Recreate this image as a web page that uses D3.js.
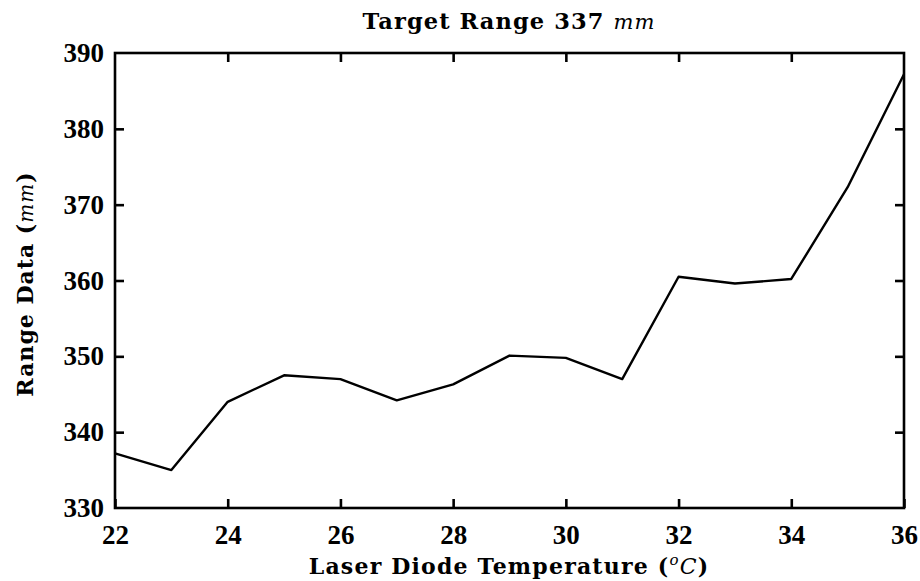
<!DOCTYPE html>
<html>
<head>
<meta charset="utf-8">
<script src="https://cdn.jsdelivr.net/npm/d3@7"></script>
<style>
  html, body { margin: 0; padding: 0; background: #fff; }
  svg { display: block; }
  text { fill: #000; }
  .lbl { font-family: "DejaVu Serif", serif; font-weight: bold; }
  .math { font-family: "DejaVu Serif", serif; font-style: italic; font-weight: normal; }
</style>
</head>
<body>
<svg id="chart" width="920" height="581"></svg>
<script>
// Laser diode temperature (°C) and measured range (mm)
const temperatures = [22, 23, 24, 25, 26, 27, 28, 29, 30, 31, 32, 33, 34, 35, 36];
const rangeData = [337.2, 335.0, 344.0, 347.5, 347.0, 344.2, 346.3, 350.1, 349.8, 347.0, 360.5, 359.6, 360.2, 372.3, 387.2];
const xTicks = [22, 24, 26, 28, 30, 32, 34, 36];
const yTicks = [330, 340, 350, 360, 370, 380, 390];

const margin = { left: 115, right: 16, top: 53, bottom: 73 };
const W = 920, H = 581;
const svg = d3.select("#chart");

const x = d3.scaleLinear().domain([22, 36]).range([margin.left, W - margin.right]);
const y = d3.scaleLinear().domain([330, 390]).range([H - margin.bottom, margin.top]);

const tickLen = 9;
const axisStroke = 2.6;

// Inward ticks on all four sides
function styleAxis(g) {
  g.select(".domain").remove();
  g.selectAll(".tick line").attr("stroke", "#000").attr("stroke-width", axisStroke);
  g.selectAll(".tick text")
    .style("font-family", "'Liberation Serif', serif")
    .style("font-weight", "bold")
    .style("font-size", "27px")
    .attr("fill", "#000");
}

svg.append("g")
  .attr("transform", `translate(0,${y(330)})`)
  .call(d3.axisBottom(x).tickValues(xTicks).tickFormat(d3.format("d")).tickSizeInner(-tickLen).tickSizeOuter(0).tickPadding(17))
  .call(styleAxis);

svg.append("g")
  .attr("transform", `translate(0,${y(390)})`)
  .call(d3.axisTop(x).tickValues(xTicks.slice(1, -1)).tickSizeInner(-tickLen).tickSizeOuter(0).tickFormat(""))
  .call(styleAxis);

svg.append("g")
  .attr("transform", `translate(${x(22)},0)`)
  .call(d3.axisLeft(y).tickValues(yTicks).tickFormat(d3.format("d")).tickSizeInner(-tickLen).tickSizeOuter(0).tickPadding(11))
  .call(styleAxis)
  .call(g => g.selectAll(".tick line").filter(d => d === 330 || d === 390).remove());

svg.append("g")
  .attr("transform", `translate(${x(36)},0)`)
  .call(d3.axisRight(y).tickValues(yTicks.slice(1, -1)).tickSizeInner(-tickLen).tickSizeOuter(0).tickFormat(""))
  .call(styleAxis);

// Frame
svg.append("rect")
  .attr("x", x(22)).attr("y", y(390))
  .attr("width", x(36) - x(22)).attr("height", y(330) - y(390))
  .attr("fill", "none").attr("stroke", "#000").attr("stroke-width", axisStroke);

// Data line
const line = d3.line().x((d, i) => x(temperatures[i])).y(d => y(d));
svg.append("path")
  .datum(rangeData)
  .attr("d", line)
  .attr("fill", "none")
  .attr("stroke", "#000")
  .attr("stroke-width", 2.4)
  .attr("stroke-linejoin", "round");

// Title
const title = svg.append("text")
  .attr("class", "lbl")
  .attr("x", 509).attr("y", 29)
  .attr("text-anchor", "middle")
  .style("font-size", "22.5px").style("letter-spacing", "1.1px");
title.append("tspan").text("Target Range 337 ");
title.append("tspan").attr("class", "math").style("font-size", "21px").text("mm");

// X axis label
const xl = svg.append("text")
  .attr("class", "lbl")
  .attr("x", 509).attr("y", 574)
  .attr("text-anchor", "middle")
  .style("font-size", "22px").style("letter-spacing", "1.2px");
xl.append("tspan").text("Laser Diode Temperature (");
xl.append("tspan").attr("class", "math").style("font-size", "15px").attr("dy", -9).text("o");
xl.append("tspan").attr("class", "math").attr("dy", 9).text("C");
xl.append("tspan").text(")");

// Y axis label
const yl = svg.append("text")
  .attr("class", "lbl")
  .attr("transform", "translate(33,284) rotate(-90)")
  .attr("text-anchor", "middle")
  .style("font-size", "22px").style("letter-spacing", "1px");
yl.append("tspan").text("Range Data (");
yl.append("tspan").attr("class", "math").style("font-size", "20px").text("mm");
yl.append("tspan").text(")");
</script>
</body>
</html>
